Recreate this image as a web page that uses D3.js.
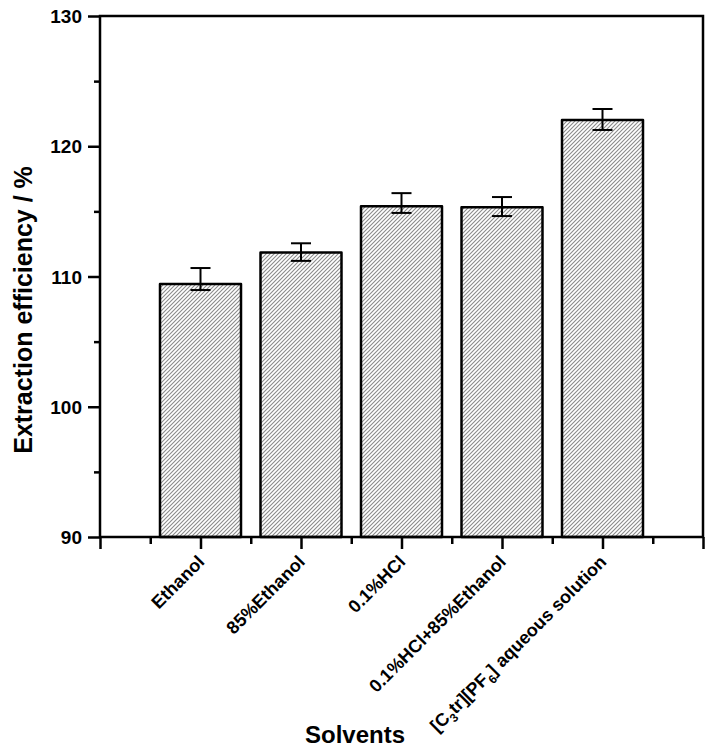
<!DOCTYPE html>
<html><head><meta charset="utf-8">
<script src="https://cdn.jsdelivr.net/npm/d3@7/dist/d3.min.js"></script>
<style>body{margin:0;background:#fff}text{font-family:Arial,"Liberation Sans",sans-serif;font-weight:bold;fill:#000}</style>
</head><body><svg id="c" width="714" height="753"></svg>
<script>
const categories = ["Ethanol","85%Ethanol","0.1%HCl","0.1%HCl+85%Ethanol","[C3tr][PF6] aqueous solution"];
const values = [109.42, 111.85, 115.4, 115.32, 122.02];
const errUp = [110.65, 112.55, 116.4, 116.1, 122.86];
const errDown = [108.96, 111.2, 114.88, 114.64, 121.25];
const yTicks = [90, 100, 110, 120, 130];

const svg = d3.select("#c");
const L=100, R=703, T=16, B=537;
const x = d3.scaleLinear().domain([0,6]).range([L,R]);
const y = d3.scaleLinear().domain([90,130]).range([B,T]);

const defs = svg.append("defs");
const pat = defs.append("pattern").attr("id","hatch").attr("patternUnits","userSpaceOnUse").attr("width",4).attr("height",4);
pat.append("rect").attr("width",4).attr("height",4).attr("fill","#fff");
pat.append("path").attr("d","M-1,1 l2,-2 M0,4 l4,-4 M3,5 l2,-2").attr("stroke","#8a8a8a").attr("stroke-width",1.1);

const bw = 81;
const g = svg.append("g");
g.selectAll("rect.bar").data(values).join("rect").attr("class","bar")
 .attr("x",(d,i)=>x(i+1)-bw/2).attr("width",bw)
 .attr("y",d=>y(d)).attr("height",d=>y(90)-y(d))
 .attr("fill","url(#hatch)").attr("stroke","#000").attr("stroke-width",2.5).attr("stroke-linejoin","round");

// error bars
const eb = g.selectAll("g.eb").data(values).join("g").attr("class","eb");
eb.append("line").attr("x1",(d,i)=>x(i+1)).attr("x2",(d,i)=>x(i+1)).attr("y1",(d,i)=>y(errUp[i])).attr("y2",(d,i)=>y(errDown[i])).attr("stroke","#000").attr("stroke-width",2);
eb.append("line").attr("x1",(d,i)=>x(i+1)-10).attr("x2",(d,i)=>x(i+1)+10).attr("y1",(d,i)=>y(errUp[i])).attr("y2",(d,i)=>y(errUp[i])).attr("stroke","#000").attr("stroke-width",2);
eb.append("line").attr("x1",(d,i)=>x(i+1)-10).attr("x2",(d,i)=>x(i+1)+10).attr("y1",(d,i)=>y(errDown[i])).attr("y2",(d,i)=>y(errDown[i])).attr("stroke","#000").attr("stroke-width",2);

// frame
svg.append("rect").attr("x",L).attr("y",T).attr("width",R-L).attr("height",B-T).attr("fill","none").attr("stroke","#000").attr("stroke-width",2.5);

// y axis
const yAx = svg.append("g").attr("transform",`translate(${L},0)`)
 .call(d3.axisLeft(y).tickValues(yTicks).tickSize(12).tickPadding(6).tickFormat(d3.format("d")));
yAx.select(".domain").remove();
yAx.selectAll(".tick line").attr("stroke-width",2.5);
yAx.selectAll(".tick text").style("font-size","19px").attr("dy","0.35em");
const yMinor = svg.append("g").attr("transform",`translate(${L},0)`)
 .call(d3.axisLeft(y).tickValues([95,105,115,125]).tickSize(6).tickFormat(""));
yMinor.select(".domain").remove();
yMinor.selectAll(".tick line").attr("stroke-width",2.5);

// x axis
const xAx = svg.append("g").attr("transform",`translate(0,${B})`)
 .call(d3.axisBottom(x).tickValues([0,1,2,3,4,5,6]).tickSize(12).tickFormat(""));
xAx.select(".domain").remove();
xAx.selectAll(".tick line").attr("stroke-width",2.5);
const xMinor = svg.append("g").attr("transform",`translate(0,${B})`)
 .call(d3.axisBottom(x).tickValues([0.5,1.5,2.5,3.5,4.5,5.5]).tickSize(7).tickFormat(""));
xMinor.select(".domain").remove();
xMinor.selectAll(".tick line").attr("stroke-width",2.5);

// x labels
const lab = svg.append("g");
categories.forEach((c,i)=>{
  const t = lab.append("text").attr("transform",`translate(${x(i+1)+5},${B+26}) rotate(-45)`)
    .attr("text-anchor","end").style("font-size","18px");
  const m = c.match(/^\[C(\d)tr\]\[PF(\d)\](.*)$/);
  if(m){
    t.append("tspan").text("[C");
    t.append("tspan").text(m[1]).attr("dy",5).style("font-size","12px");
    t.append("tspan").text("tr][PF").attr("dy",-5);
    t.append("tspan").text(m[2]).attr("dy",5).style("font-size","12px");
    t.append("tspan").text("]"+m[3]).attr("dy",-5);
  } else t.text(c);
});

svg.append("text").attr("x",355).attr("y",743).attr("text-anchor","middle").style("font-size","24px").text("Solvents");
svg.append("text").attr("transform","translate(32,310) rotate(-90)").attr("text-anchor","middle").style("font-size","25px").text("Extraction efficiency / %");
</script></body></html>
